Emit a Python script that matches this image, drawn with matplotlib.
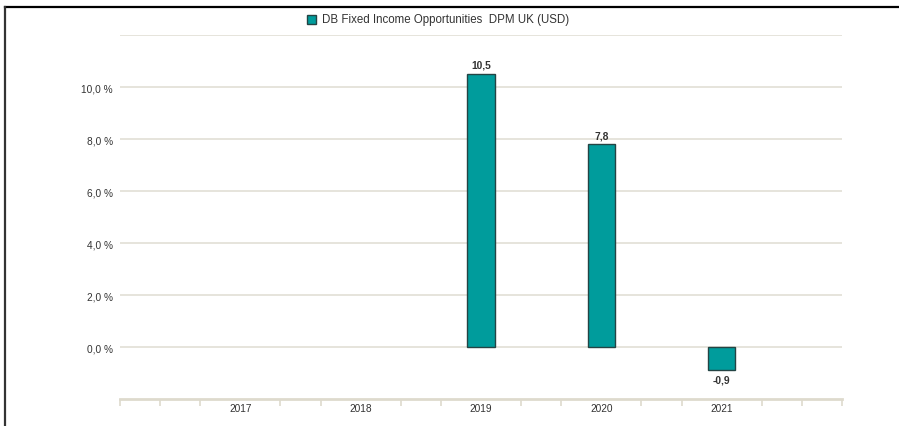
import matplotlib.pyplot as plt
import numpy as np
from matplotlib.lines import Line2D
from matplotlib.patches import Rectangle

plt.rcParams['font.family'] = ['Liberation Sans', 'DejaVu Sans']

years = ["2017", "2018", "2019", "2020", "2021"]
returns = [np.nan, np.nan, 10.5, 7.8, -0.9]
series_name = "DB Fixed Income Opportunities  DPM UK (USD)"
y_ticks = [0, 2, 4, 6, 8, 10]

teal = "#009c9c"
edge = "#244444"
grid_c = "#e2dfd6"
axis_c = "#dedacd"
text_c = "#333333"

fig = plt.figure(figsize=(8.99, 4.27), dpi=100)
ax = fig.add_axes([120 / 899, 1 - 400 / 427, 722 / 899, 364 / 427])

x = np.arange(len(years))
ax.bar(x, returns, width=0.225, color=teal, edgecolor=edge, linewidth=1.0, zorder=3)

# value labels
for xi, v in zip(x, returns):
    if np.isnan(v):
        continue
    label = f"{v:.1f}".replace(".", ",")
    if v >= 0:
        ax.annotate(label, (xi, v), xytext=(0, 3), textcoords="offset points",
                    ha="center", va="bottom", fontsize=7.4, fontweight="bold", color=text_c)
    else:
        ax.annotate(label, (xi, v), xytext=(0, -3), textcoords="offset points",
                    ha="center", va="top", fontsize=7.4, fontweight="bold", color=text_c)

ax.set_xlim(-1, len(years))
ax.set_ylim(-2, 12)

# horizontal grid
for g in y_ticks + [12]:
    ax.axhline(g, color=grid_c, linewidth=1.2, zorder=1)

ax.set_yticks(y_ticks)
ax.set_yticklabels([f"{t:.1f} %".replace(".", ",") for t in y_ticks],
                   fontsize=7.3, color=text_c)
ax.tick_params(axis="y", length=0, pad=5)

ax.set_xticks(x)
ax.set_xticklabels(years, fontsize=7.3, color=text_c)
ax.tick_params(axis="x", which="major", length=0, pad=3)
minor = [k / 3 for k in range(-3, 3 * len(years) + 1) if k % 3 != 0 or k in (-3, 3 * len(years))]
ax.set_xticks(minor, minor=True)
ax.tick_params(axis="x", which="minor", length=5, width=1.2, color=axis_c, direction="out")

for s in ["top", "right", "left"]:
    ax.spines[s].set_visible(False)
ax.spines["bottom"].set_color(axis_c)
ax.spines["bottom"].set_linewidth(2)

# legend at top
fig.patches.append(Rectangle((307 / 899, 1 - 25 / 427), 9 / 899, 9 / 427,
                             transform=fig.transFigure, facecolor=teal,
                             edgecolor=edge, linewidth=1.0))
fig.text(322 / 899, 1 - 20 / 427, series_name, fontsize=8.3, color=text_c,
         ha="left", va="center")

# outer frame (top and left)
fig.add_artist(Line2D([5 / 899, 1], [1 - 8 / 427, 1 - 8 / 427], color="black",
                      linewidth=1.6, transform=fig.transFigure))
fig.add_artist(Line2D([5 / 899, 5 / 899], [0, 1 - 8 / 427], color="#333333",
                      linewidth=1.6, transform=fig.transFigure))

fig.savefig("out.png", dpi=100)
